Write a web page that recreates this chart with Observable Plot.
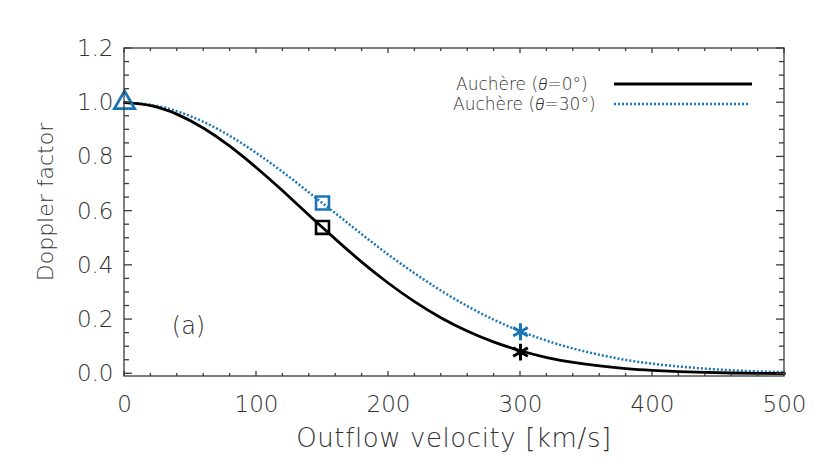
<!DOCTYPE html>
<html><head><meta charset="utf-8">
<script src="https://cdn.jsdelivr.net/npm/d3@7"></script>
<script src="https://cdn.jsdelivr.net/npm/@observablehq/plot@0.6"></script>
<style>
body{margin:0;background:#fff;}
#chart svg{display:block;}
</style>
</head><body><div id="chart"></div>
<script>
// ---- data ----
const velocity = [0,20,40,60,80,100,120,140,160,180,200,220,240,260,280,300,320,340,360,380,400,420,440,460,480,500];
const dopplerTheta0 = [1.0,0.989,0.957,0.906,0.839,0.760,0.674,0.584,0.496,0.411,0.334,0.265,0.206,0.157,0.117,0.085,0.060,0.042,0.029,0.019,0.0125,0.008,0.005,0.003,0.0018,0.0011];
const dopplerTheta30 = [1.0,0.992,0.968,0.929,0.877,0.814,0.744,0.668,0.591,0.514,0.439,0.370,0.306,0.249,0.199,0.157,0.122,0.093,0.070,0.051,0.037,0.027,0.019,0.013,0.0087,0.0058];

const markerVelocity = [0,150,150,300,300];
const markerDoppler  = [1.0,0.54,0.63,0.08,0.155];
const markerSeries   = ["θ=30°","θ=0°","θ=30°","θ=0°","θ=30°"];
const markerShape    = ["triangle","square","square","asterisk","asterisk"];

const xTicks = [0,100,200,300,400,500];
const yTicks = [0.0,0.2,0.4,0.6,0.8,1.0,1.2];
const xMinorTicks = [0,20,40,60,80,100,120,140,160,180,200,220,240,260,280,300,320,340,360,380,400,420,440,460,480,500];
const yMinorTicks = [0,0.05,0.1,0.15,0.2,0.25,0.3,0.35,0.4,0.45,0.5,0.55,0.6,0.65,0.7,0.75,0.8,0.85,0.9,0.95,1.0,1.05,1.1,1.15,1.2];

const legendLabels = ["Auchère (θ=0°)", "Auchère (θ=30°)"];
const xTitle = "Outflow velocity [km/s]";
const yTitle = "Doppler factor";
const panelLabel = "(a)";

const BLACK = "#000000";
const BLUE = "#1a75b8";
const AXIS = "#3a3a3a";
const TEXT = "#333333";
const FONT = "'DejaVu Sans', sans-serif";

const curve0 = velocity.map((v,i)=>({v, d: dopplerTheta0[i]}));
const curve30 = velocity.map((v,i)=>({v, d: dopplerTheta30[i]}));
const markers = markerVelocity.map((v,i)=>({v, d: markerDoppler[i], s: markerSeries[i], shape: markerShape[i]}));

function frameTicks(index, scales, values, dims) {
  const {x, y} = scales;
  const L = dims.marginLeft, R = dims.width - dims.marginRight;
  const T = dims.marginTop, B = dims.height - dims.marginBottom;
  const g = d3.create("svg:g").attr("fill","none").attr("stroke",AXIS).attr("stroke-width",1.3);
  g.append("rect").attr("x",L).attr("y",T).attr("width",R-L).attr("height",B-T);
  for (const v of xMinorTicks) {
    const px = x(v);
    const len = xTicks.includes(v) ? 5 : 3;
    g.append("line").attr("x1",px).attr("x2",px).attr("y1",B).attr("y2",B-len);
    g.append("line").attr("x1",px).attr("x2",px).attr("y1",T).attr("y2",T+len);
  }
  for (const v of yMinorTicks) {
    const py = y(v);
    const major = yTicks.some(t => Math.abs(t - v) < 1e-9);
    const len = major ? 8 : 5;
    g.append("line").attr("x1",L).attr("x2",L+len).attr("y1",py).attr("y2",py);
    g.append("line").attr("x1",R).attr("x2",R-len).attr("y1",py).attr("y2",py);
  }
  return g.node();
}

function legendAndTitles(index, scales, values, dims) {
  const g = d3.create("svg:g").attr("font-family", FONT).attr("font-weight", 200).attr("fill", TEXT);
  const rows = [
    {label: legendLabels[0], x: 456, y: 84, color: BLACK, dash: null, w: 3, x1: 614, x2: 752},
    {label: legendLabels[1], x: 453, y: 104, color: BLUE, dash: "2,2", w: 2.5, x1: 614, x2: 750}
  ];
  for (const r of rows) {
    const t = g.append("text").attr("x", r.x).attr("y", r.y).attr("dy","0.35em")
      .attr("text-anchor", "start").attr("font-size", 17);
    const m = r.label.match(/^(.*\()θ(.*)$/);
    t.append("tspan").text(m[1]);
    t.append("tspan").attr("font-style","italic").attr("font-family","Roboto, 'Open Sans', sans-serif").attr("font-weight", 300).text("θ");
    t.append("tspan").text(m[2]);
    g.append("line").attr("x1", r.x1).attr("x2", r.x2).attr("y1", r.y).attr("y2", r.y)
      .attr("stroke", r.color).attr("stroke-width", r.w).attr("stroke-dasharray", r.dash);
  }
  // y-axis title
  g.append("text").attr("transform", "translate(52.5,202) rotate(-90)")
    .attr("text-anchor", "middle").attr("font-size", 22).text(yTitle);
  // x-axis title
  const cx = (dims.marginLeft + dims.width - dims.marginRight) / 2;
  g.append("text").attr("x", cx).attr("y", dims.height - dims.marginBottom + 62).attr("dy", "0.35em")
    .attr("text-anchor", "middle").attr("font-size", 26).attr("letter-spacing", "0.6px").text(xTitle);
  return g.node();
}

const chart = Plot.plot({
  width: 830,
  height: 475,
  marginLeft: 124,
  marginRight: 46,
  marginTop: 48,
  marginBottom: 99,
  style: {fontFamily: FONT, fontSize: "23px", fontWeight: 200, color: TEXT, background: "#fff"},
  x: {domain: [0, 500], ticks: xTicks, tickSize: 0, tickPadding: 19, label: null, tickFormat: d3.format("d")},
  y: {domain: [-0.01, 1.2], ticks: yTicks, tickSize: 0, tickPadding: 11, label: null, tickFormat: d3.format(".1f")},
  symbol: {domain: ["triangle","square","asterisk"], range: ["triangle","square","asterisk"]},
  marks: [
    Plot.line(curve30, {x: "v", y: "d", stroke: BLUE, strokeWidth: 2.5, strokeDasharray: "2,2", strokeLinecap: "butt", curve: "natural"}),
    Plot.line(curve0, {x: "v", y: "d", stroke: BLACK, strokeWidth: 2.8, curve: "natural"}),
    Plot.dot(markers.filter(m => m.shape === "square"), {x: "v", y: "d", symbol: "shape", r: 7.3, stroke: m => m.s === "θ=0°" ? BLACK : BLUE, strokeWidth: 2.6, fill: "none"}),
    Plot.dot(markers.filter(m => m.shape === "asterisk"), {x: "v", y: "d", symbol: "shape", r: 8, stroke: m => m.s === "θ=0°" ? BLACK : BLUE, strokeWidth: 3, fill: "none"}),
    Plot.dot(markers.filter(m => m.shape === "triangle"), {x: "v", y: "d", symbol: "shape", r: 7.5, stroke: BLUE, strokeWidth: 2.8, fill: "none"}),
    frameTicks,
    legendAndTitles,
    Plot.text([panelLabel], {frameAnchor: "bottom-left", dx: 64, dy: -50, fontSize: 24, textAnchor: "middle", lineAnchor: "middle", fill: TEXT})
  ]
});
document.getElementById("chart").appendChild(chart);
</script>
</body></html>
